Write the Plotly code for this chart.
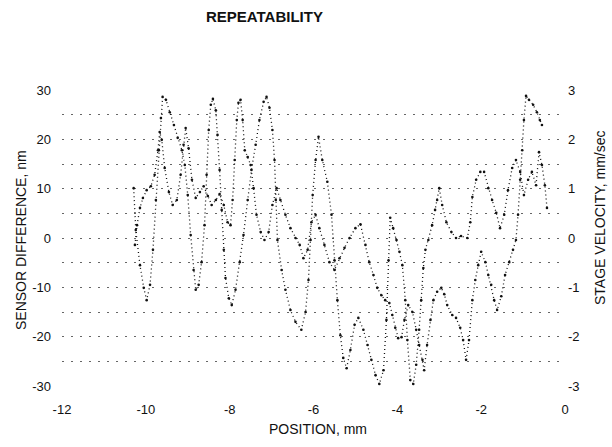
import plotly.graph_objects as go

# Sensor difference trace (nm) versus stage position (mm)
pos_a = [-10.29, -10.24, -10.14, -10.05, -9.98, -9.90, -9.83, -9.76, -9.69, -9.64,
         -9.60, -9.52, -9.43, -9.33, -9.24, -9.14, -9.07, -9.00, -8.93, -8.86,
         -8.81, -8.74, -8.67, -8.60, -8.55, -8.50, -8.45, -8.40, -8.33, -8.29,
         -8.24, -8.19, -8.14, -8.10, -8.02, -7.95, -7.86, -7.76, -7.67, -7.57,
         -7.48, -7.38, -7.29, -7.19, -7.12, -7.05, -6.98, -6.93, -6.90, -6.86,
         -6.76, -6.67, -6.55, -6.43, -6.29, -6.19, -6.12, -6.07, -6.02, -5.95,
         -5.88, -5.79, -5.67, -5.57, -5.50, -5.43, -5.36, -5.29, -5.21, -5.12,
         -5.02, -4.93, -4.81, -4.71, -4.62, -4.52, -4.43, -4.33, -4.26, -4.21,
         -4.17, -4.10, -4.02, -3.95, -3.88, -3.81, -3.76, -3.69, -3.62, -3.55,
         -3.48, -3.43, -3.38, -3.33, -3.26, -3.17, -3.10, -3.05, -3.00, -2.93,
         -2.83, -2.71, -2.60, -2.48, -2.33, -2.26, -2.21, -2.12, -2.02, -1.93,
         -1.83, -1.74, -1.64, -1.55, -1.45, -1.36, -1.26, -1.17, -1.07, -0.98,
         -0.88, -0.79, -0.69, -0.62, -0.55, -0.48, -0.43]
diff_a = [10.1, 1.6, -5.5, -10.1, -12.6, -9.5, -2.4, 7.7, 17.8, 24.3,
          28.6, 28.0, 25.5, 22.9, 20.3, 17.8, 14.8, 8.7, 0.6, -6.5,
          -10.5, -9.5, -4.9, 2.6, 12.8, 21.9, 27.0, 28.2, 25.9, 20.9,
          13.8, 5.7, -2.4, -8.1, -12.2, -13.6, -10.5, -4.9, 0.6, 7.7,
          13.8, 18.9, 23.9, 27.6, 28.6, 26.4, 21.9, 15.8, 7.7, -0.4,
          -6.5, -10.5, -14.6, -17.0, -18.6, -15.0, -8.5, -0.4, 8.7, 15.8,
          20.5, 15.8, 11.4, 4.7, -4.5, -12.6, -19.7, -24.3, -26.4, -22.7,
          -17.6, -16.2, -18.6, -21.7, -24.7, -27.8, -29.6, -26.8, -16.6, -4.5,
          4.1, 2.0, -0.4, -2.8, -5.5, -12.6, -20.7, -28.8, -29.6, -25.7,
          -18.6, -12.6, -6.1, -2.4, -0.4, 2.6, 5.7, 7.7, 10.1, 6.7,
          3.2, 1.2, 0.0, 0.4, 0.0, 3.2, 8.3, 11.8, 13.4, 13.4,
          10.1, 7.7, 5.1, 2.0, 4.7, 9.7, 14.2, 15.8, 13.4, 8.7,
          11.8, 13.4, 10.7, 17.4, 14.8, 10.7, 6.1]

# Stage velocity trace (mm/sec) versus stage position (mm)
pos_b = [-10.26, -10.21, -10.14, -10.07, -9.98, -9.88, -9.79, -9.71, -9.67, -9.62,
         -9.55, -9.45, -9.36, -9.26, -9.17, -9.10, -9.05, -8.98, -8.90, -8.81,
         -8.71, -8.62, -8.52, -8.43, -8.33, -8.24, -8.14, -8.05, -7.98, -7.93,
         -7.88, -7.83, -7.79, -7.74, -7.69, -7.64, -7.57, -7.50, -7.43, -7.36,
         -7.26, -7.17, -7.07, -6.98, -6.88, -6.79, -6.67, -6.55, -6.43, -6.33,
         -6.24, -6.14, -6.05, -5.95, -5.86, -5.74, -5.62, -5.50, -5.38, -5.26,
         -5.14, -5.00, -4.88, -4.76, -4.67, -4.57, -4.48, -4.38, -4.29, -4.19,
         -4.12, -4.05, -3.98, -3.90, -3.83, -3.74, -3.64, -3.55, -3.48, -3.40,
         -3.36, -3.29, -3.21, -3.14, -3.05, -2.95, -2.88, -2.81, -2.69, -2.60,
         -2.50, -2.43, -2.36, -2.29, -2.21, -2.14, -2.07, -2.00, -1.90, -1.83,
         -1.76, -1.69, -1.62, -1.52, -1.43, -1.33, -1.24, -1.17, -1.12, -1.07,
         -1.02, -0.98, -0.93, -0.86, -0.76, -0.67, -0.60, -0.55]
vel_b = [-0.14, 0.26, 0.61, 0.81, 0.97, 1.05, 1.28, 1.78, 2.15, 1.99,
         1.42, 0.93, 0.67, 0.77, 1.28, 1.89, 2.23, 1.82, 1.18, 0.81,
         0.93, 1.05, 0.85, 0.67, 0.77, 0.89, 0.67, 0.32, 0.26, 0.77,
         1.58, 2.39, 2.74, 2.80, 2.39, 1.78, 1.64, 1.48, 1.01, 0.47,
         0.12, -0.04, 0.12, 0.67, 1.01, 0.77, 0.47, 0.20, 0.00, -0.14,
         -0.41, -0.24, 0.32, 0.47, 0.20, -0.14, -0.49, -0.65, -0.41, -0.20,
         0.00, 0.20, 0.28, -0.14, -0.49, -0.75, -1.01, -1.16, -1.26, -1.32,
         -1.56, -1.82, -2.03, -2.01, -1.66, -1.36, -1.50, -1.86, -2.17, -2.47,
         -2.68, -2.17, -1.66, -1.26, -1.09, -1.01, -1.14, -1.36, -1.56, -1.62,
         -1.82, -2.07, -2.47, -2.07, -1.26, -0.85, -0.55, -0.28, -0.49, -0.75,
         -0.95, -1.26, -1.46, -1.18, -0.75, -0.49, -0.24, -0.04, 0.47, 1.18,
         1.78, 2.39, 2.88, 2.80, 2.70, 2.55, 2.39, 2.29]

x_ticks = [-12, -10, -8, -6, -4, -2, 0]
left_ticks = [-30, -20, -10, 0, 10, 20, 30]
right_ticks = [-3, -2, -1, 0, 1, 2, 3]

FONT = "Liberation Sans, Arial, Helvetica, sans-serif"
INK = "#111111"
GRID = "#666666"

trace_style = dict(
    mode="lines+markers",
    line=dict(color=INK, width=1.3, dash="1px,3px"),
    marker=dict(color=INK, size=2.6),
    showlegend=False,
)

fig = go.Figure()
fig.add_trace(go.Scatter(x=pos_a, y=diff_a, yaxis="y", **trace_style))
fig.add_trace(go.Scatter(x=pos_b, y=vel_b, yaxis="y2", **trace_style))

W, H = 612, 447
ML, MR, MT, MB = 62, 47, 90, 61
PW, PH = W - ML - MR, H - MT - MB


def px_to_paper(px, py):
    return (px - ML) / PW, (H - MB - py) / PH


fig.update_layout(
    width=W, height=H,
    margin=dict(l=ML, r=MR, t=MT, b=MB),
    paper_bgcolor="white", plot_bgcolor="white",
    font=dict(family=FONT, color=INK, size=13),
    xaxis=dict(range=[-12, 0], tickvals=x_ticks, ticktext=[str(v) for v in x_ticks],
               showgrid=False, zeroline=False, showline=False, ticks="",
               ticklabelstandoff=14, tickfont=dict(size=13)),
    yaxis=dict(range=[-30, 30], tickvals=left_ticks, ticktext=[str(v) for v in left_ticks],
               showgrid=True, gridcolor=GRID, gridwidth=1, griddash="2px,7px",
               minor=dict(dtick=5, tick0=0, showgrid=True, gridcolor=GRID,
                          gridwidth=1, griddash="2px,7px"),
               zeroline=False, showline=False, ticks="",
               ticklabelstandoff=10, tickfont=dict(size=13)),
    yaxis2=dict(range=[-3, 3], tickvals=right_ticks, ticktext=[str(v) for v in right_ticks],
                overlaying="y", side="right", showgrid=False, zeroline=False,
                showline=False, ticks="", ticklabelstandoff=2, tickfont=dict(size=13)),
)

annotations = []
tx, ty = px_to_paper(264, 16)
annotations.append(dict(text="<b>REPEATABILITY</b>", x=tx, y=ty, xref="paper", yref="paper",
                        xanchor="center", yanchor="middle",
                        showarrow=False, font=dict(size=15, family=FONT, color=INK)))
ax, ay = px_to_paper(318, 429)
annotations.append(dict(text="POSITION, mm", x=ax, y=ay, xref="paper", yref="paper",
                        xanchor="center", yanchor="middle",
                        showarrow=False, font=dict(size=14, family=FONT, color=INK)))
lx, ly = px_to_paper(21, 240)
annotations.append(dict(text="SENSOR DIFFERENCE, nm", x=lx, y=ly, xref="paper", yref="paper",
                        xanchor="center", yanchor="middle",
                        textangle=-90, showarrow=False, font=dict(size=14, family=FONT, color=INK)))
rx, ry = px_to_paper(600, 218)
annotations.append(dict(text="STAGE VELOCITY, mm/sec", x=rx, y=ry, xref="paper", yref="paper",
                        xanchor="center", yanchor="middle",
                        textangle=-90, showarrow=False, font=dict(size=14, family=FONT, color=INK)))
fig.update_layout(annotations=annotations)

fig.write_html("out.html")
